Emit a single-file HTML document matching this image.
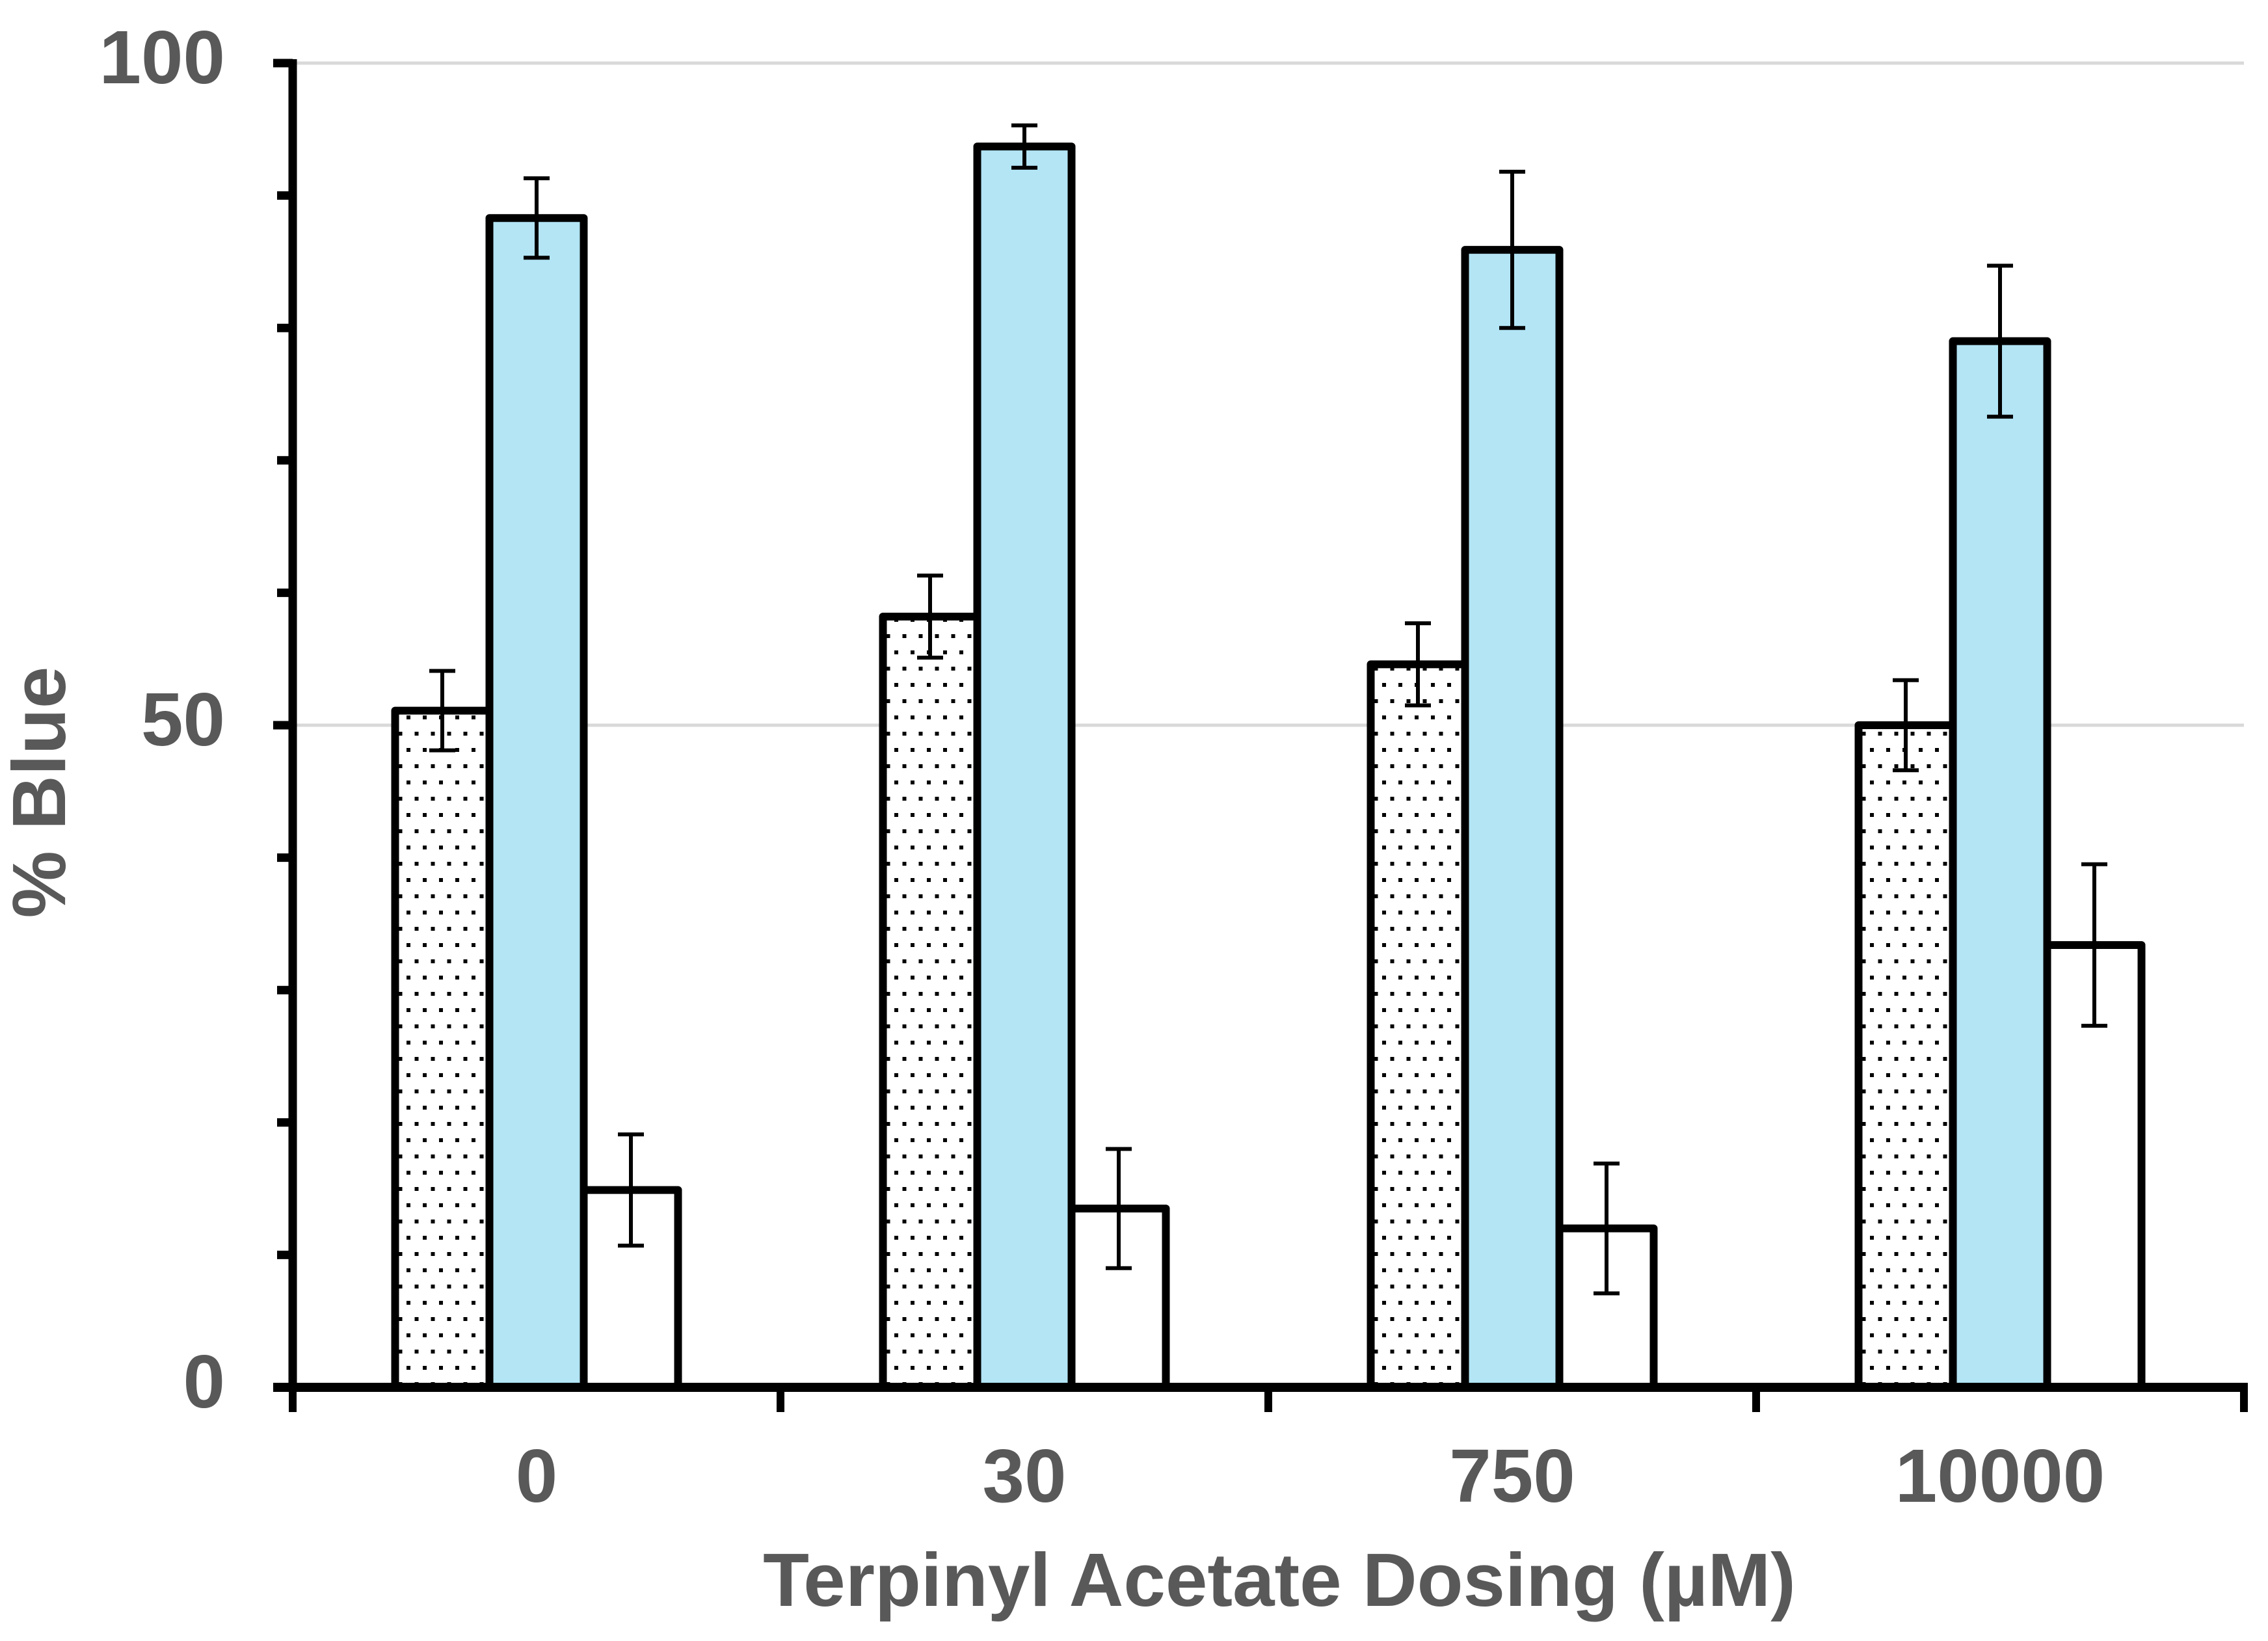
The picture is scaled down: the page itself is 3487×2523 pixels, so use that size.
<!DOCTYPE html>
<html><head><meta charset="utf-8"><style>
html,body{margin:0;padding:0;background:#fff;}
svg{display:block;}
text{font-family:"Liberation Sans",Arial,sans-serif;font-weight:bold;fill:#595959;}
</style></head><body>
<svg id="chart" width="3487" height="2523" viewBox="0 0 3487 2523" xmlns="http://www.w3.org/2000/svg">
<defs>
<pattern id="dots" width="25" height="50" patternUnits="userSpaceOnUse">
<rect x="0" y="0" width="6" height="6" fill="#000"/>
<rect x="12.5" y="25" width="6" height="6" fill="#000"/>
</pattern>
</defs>
<g id="grid"></g>
<g id="bars"></g>
<g id="axes"></g>
<text x="1967" y="2469" font-size="116" text-anchor="middle">Terpinyl Acetate Dosing (µM)</text>
<text x="0" y="0" font-size="116" text-anchor="middle" transform="translate(100,1218) rotate(-90)">%  Blue</text>
</svg>
<script>
const categories = ["0","30","750","10000"];
const dottedValues = [51.1, 58.2, 54.6, 50.0];
const dottedErrors = [3.0, 3.1, 3.1, 3.4];
const blueValues = [88.3, 93.7, 85.9, 79.0];
const blueErrors = [3.0, 1.6, 5.9, 5.7];
const whiteValues = [14.9, 13.5, 12.0, 33.4];
const whiteErrors = [4.2, 4.5, 4.9, 6.1];
const yTickLabels = [0, 50, 100];
const yMinorTicks = [0,10,20,30,40,50,60,70,80,90,100];

const NS = "http://www.w3.org/2000/svg";
const X0 = 450, X1 = 3450, Y0 = 2133, Y100 = 97;
const catW = (X1 - X0) / categories.length;
const barW = 145;
function yScale(v){ return Y0 - (Y0 - Y100) * v / 100; }
function xCenter(i){ return X0 + catW * (i + 0.5); }
function mk(tag, attrs, parent){
  const el = document.createElementNS(NS, tag);
  for (const k in attrs) el.setAttribute(k, attrs[k]);
  parent.appendChild(el);
  return el;
}
const grid = document.getElementById('grid');
const bars = document.getElementById('bars');
const axes = document.getElementById('axes');

[50,100].forEach(v => {
  const l = mk('line', {x1: X0, x2: X1, y1: yScale(v), y2: yScale(v), stroke: '#d9d9d9', 'stroke-width': 5}, grid);
  
  
});

const series = [
  {vals: dottedValues, errs: dottedErrors, fill: 'url(#dots)', name: 'dotted'},
  {vals: blueValues, errs: blueErrors, fill: '#b3e5f5', name: 'blue'},
  {vals: whiteValues, errs: whiteErrors, fill: '#ffffff', name: 'white'}
];
categories.forEach((c, i) => {
  series.forEach((s, j) => {
    const cx = xCenter(i) + (j - 1) * barW;
    const top = yScale(s.vals[i]);
    if (s.name === 'dotted') {
      const bg = mk('rect', {x: cx - barW/2, y: top, width: barW, height: Y0 - top, fill: '#fff'}, bars);
      
      
    }
    const r = mk('rect', {x: cx - barW/2, y: top, width: barW, height: Y0 - top, fill: s.fill, stroke: '#000', 'stroke-width': 12, 'stroke-linejoin': 'round'}, bars);
    
    
    const hi = yScale(s.vals[i] + s.errs[i]), lo = yScale(s.vals[i] - s.errs[i]);
    const g = mk('g', {stroke: '#000', 'stroke-width': 6}, bars);
    
    
    mk('line', {x1: cx, x2: cx, y1: hi, y2: lo}, g);
    mk('line', {x1: cx - 20, x2: cx + 20, y1: hi, y2: hi}, g);
    mk('line', {x1: cx - 20, x2: cx + 20, y1: lo, y2: lo}, g);
  });
  const t = mk('text', {x: xCenter(i), y: 2309, 'font-size': 116, 'text-anchor': 'middle'}, axes);
  t.textContent = c;
  
  
});

const ya = mk('line', {x1: X0, x2: X0, y1: Y100 - 6, y2: Y0 + 6, stroke: '#000', 'stroke-width': 13}, axes);


const xa = mk('line', {x1: X0 - 30, x2: X1 + 6, y1: Y0, y2: Y0, stroke: '#000', 'stroke-width': 14}, axes);


yMinorTicks.forEach(v => {
  const major = v % 50 === 0;
  const tk = mk('line', {x1: major ? X0 - 30 : X0 - 24, x2: X0, y1: yScale(v), y2: yScale(v), stroke: '#000', 'stroke-width': 13}, axes);
  
  
});
for (let i = 0; i <= categories.length; i++) {
  const x = X0 + catW * i;
  const tk = mk('line', {x1: x, x2: x, y1: Y0, y2: Y0 + 38, stroke: '#000', 'stroke-width': 12}, axes);
  
  
}
yTickLabels.forEach(v => {
  const t = mk('text', {x: 346, y: yScale(v) + 31, 'font-size': 116, 'text-anchor': 'end'}, axes);
  t.textContent = v;
  
  
});
</script>
</body></html>
